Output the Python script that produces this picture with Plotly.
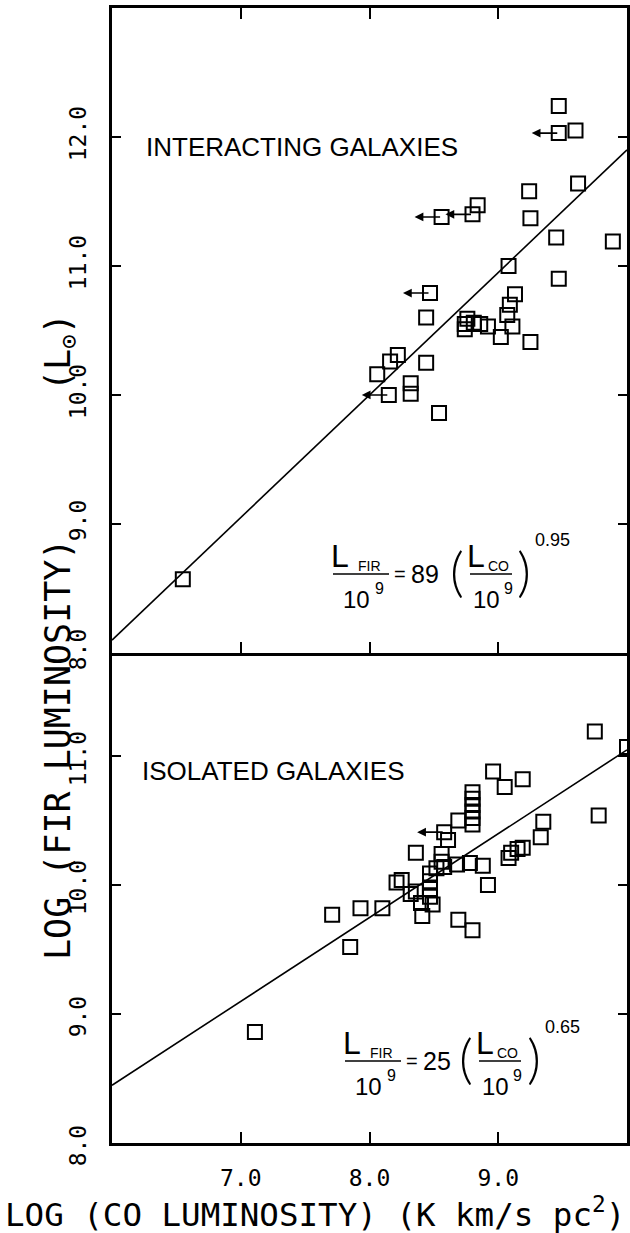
import math
import plotly.graph_objects as go
from plotly.subplots import make_subplots

# ---------------- data ----------------
# Interacting galaxies (top panel): log L_CO, log L_FIR
int_logco = [9.47, 9.47, 9.60, 9.62, 9.24, 9.25, 9.45, 9.89, 9.08, 9.47,
             8.56, 8.80, 8.84, 8.47, 8.44, 8.76, 8.74, 8.74, 8.86, 8.92,
             9.07, 9.09, 9.13, 9.11, 9.02, 9.25, 8.81, 8.22, 8.16, 8.06,
             8.44, 8.32, 8.32, 8.15, 8.54, 6.55]
int_logfir = [12.24, 12.03, 12.05, 11.64, 11.58, 11.37, 11.22, 11.19, 11.00, 10.90,
              11.38, 11.40, 11.47, 10.79, 10.60, 10.59, 10.51, 10.55, 10.55, 10.53,
              10.62, 10.70, 10.78, 10.53, 10.45, 10.41, 10.56, 10.31, 10.26, 10.16,
              10.25, 10.09, 10.01, 10.00, 9.86, 8.57]
# upper limits on CO (arrows pointing to lower L_CO)
int_lim_logco = [9.47, 8.56, 8.80, 8.47, 8.15]
int_lim_logfir = [12.03, 11.38, 11.40, 10.79, 10.00]

# Isolated galaxies (bottom panel)
iso_logco = [9.75, 9.78, 8.96, 9.05, 9.19, 8.80, 8.80, 8.80, 8.80, 8.80,
             8.80, 8.69, 8.58, 8.61, 8.36, 8.56, 9.35, 9.33, 9.19, 9.15,
             9.10, 9.08, 8.88, 8.78, 8.68, 8.58, 8.56, 8.92, 8.21, 8.25,
             8.36, 8.32, 8.47, 8.47, 8.47, 8.47, 8.40, 8.49, 8.41, 8.69,
             8.80, 7.71, 7.93, 8.10, 7.85, 7.11, 8.52, 10.00]
iso_logfir = [11.19, 10.54, 10.88, 10.76, 10.82, 10.72, 10.67, 10.62, 10.57, 10.52,
              10.47, 10.50, 10.41, 10.35, 10.25, 10.24, 10.49, 10.37, 10.29, 10.28,
              10.25, 10.21, 10.15, 10.17, 10.16, 10.14, 10.18, 10.00, 10.02, 10.04,
              9.95, 9.93, 10.09, 10.03, 9.97, 9.91, 9.86, 9.85, 9.76, 9.73,
              9.65, 9.77, 9.82, 9.82, 9.52, 8.86, 10.13, 11.07]
iso_lim_logco = [8.58]
iso_lim_logfir = [10.41]

# Fits: L_FIR/1e9 = A (L_CO/1e9)^b
fit_int_coef, fit_int_slope = 89, 0.95
fit_iso_coef, fit_iso_slope = 25, 0.65
fit_x = [6.0, 10.0]

x_ticks = [7.0, 8.0, 9.0]
y_ticks_top = [8.0, 9.0, 10.0, 11.0, 12.0]
y_ticks_bot = [8.0, 9.0, 10.0, 11.0]
x_range = [6.0, 10.0]
y_range_top = [8.0, 13.0]
y_range_bot = [8.0, 11.8]

# ---------------- figure ----------------
W, H = 630, 1233
ML, MR, MT, MB = 112, 3, 8, 90
PW, PH = W - ML - MR, H - MT - MB

def px(xp, yp):
    return (xp - ML) / PW, (H - MB - yp) / PH

fig = make_subplots(rows=2, cols=1, shared_xaxes=True, vertical_spacing=0,
                    row_heights=[y_range_top[1] - y_range_top[0],
                                 y_range_bot[1] - y_range_bot[0]])

def fit_line(coef, slope):
    return [9 + math.log10(coef) + slope * (x - 9) for x in fit_x]

fig.add_trace(go.Scatter(x=fit_x, y=fit_line(fit_int_coef, fit_int_slope), mode="lines",
                         line=dict(color="black", width=1.6), showlegend=False), row=1, col=1)
fig.add_trace(go.Scatter(x=fit_x, y=fit_line(fit_iso_coef, fit_iso_slope), mode="lines",
                         line=dict(color="black", width=1.6), showlegend=False), row=2, col=1)

marker = dict(symbol="square-open", size=14, color="black", line=dict(width=2, color="black"))
fig.add_trace(go.Scatter(x=int_logco, y=int_logfir, mode="markers", marker=marker,
                         showlegend=False), row=1, col=1)
fig.add_trace(go.Scatter(x=iso_logco, y=iso_logfir, mode="markers", marker=marker,
                         showlegend=False), row=2, col=1)

ARROW = 0.21
for xs, ys, xr, yr in [(int_lim_logco, int_lim_logfir, "x", "y"),
                       (iso_lim_logco, iso_lim_logfir, "x2", "y2")]:
    for xv, yv in zip(xs, ys):
        fig.add_annotation(x=xv - ARROW, y=yv, ax=xv, ay=yv, xref=xr, yref=yr,
                           axref=xr, ayref=yr, text="", showarrow=True,
                           arrowhead=2, arrowsize=1.1, arrowwidth=1.6, arrowcolor="black")

axis_common = dict(showline=True, linewidth=2.5, linecolor="black", mirror="ticks",
                   ticks="inside", tickcolor="black", tickwidth=1.5,
                   showgrid=False, zeroline=False, automargin=False)
tickfont = dict(family="DejaVu Sans Mono", size=23, color="black")

fig.update_xaxes(range=x_range, tickvals=x_ticks, ticklen=11, **axis_common)
fig.update_xaxes(showticklabels=False, row=1, col=1)
fig.update_xaxes(ticktext=[f"{v:.1f}" for v in x_ticks], tickfont=tickfont,
                 ticklabelstandoff=13, mirror=False, row=2, col=1)
fig.update_yaxes(range=y_range_top, tickvals=y_ticks_top,
                 ticktext=[f"{v:.1f}" for v in y_ticks_top], row=1, col=1)
fig.update_yaxes(range=y_range_bot, tickvals=y_ticks_bot,
                 ticktext=[f"{v:.1f}" for v in y_ticks_bot], ticklabelshift=6, row=2, col=1)
fig.update_yaxes(tickangle=-90, tickfont=tickfont, ticklen=9, ticklabelstandoff=14,
                 **axis_common)

def note(xp, yp, s, font, **kw):
    x0, y0 = px(xp, yp)
    opts = dict(xanchor="center", yanchor="middle")
    opts.update(kw)
    fig.add_annotation(x=x0, y=y0, xref="paper", yref="paper", showarrow=False, text=s,
                       font=font, **opts)

# axis titles
note(315, 1212, "LOG (CO LUMINOSITY) (K km/s pc<sup>2</sup>)",
     dict(family="DejaVu Sans Mono", size=32.5, color="black"))
note(60, 637, "LOG (FIR LUMINOSITY)" + "\u00a0" * 7 + "(L<sub>\u2299</sub>)",
     dict(family="DejaVu Sans Mono", size=35, color="black"), textangle=-90)

# panel labels
lab_font = dict(family="Liberation Sans", size=26, color="black")
note(144, 147, "INTERACTING GALAXIES", lab_font, xanchor="left")
note(140, 771, "ISOLATED GALAXIES", lab_font, xanchor="left")

# equations
def txt(xp, yp, s, size, family="Liberation Sans", weight=None):
    f = dict(family=family, size=size, color="black")
    if weight:
        f["weight"] = weight
    note(xp, yp, s, f)

def bar(x1, x2, yp):
    a, b = px(x1, yp)
    c, _ = px(x2, yp)
    fig.add_shape(type="line", x0=a, x1=c, y0=b, y1=b, xref="paper", yref="paper",
                  line=dict(color="black", width=1.5))

def equation(dx, dy, coef, expo, pl, pr):
    # dx, dy: pixel offset of this equation; pl, pr: positions of parentheses
    txt(dx + 340, dy + 556, "L", 32)
    txt(dx + 369, dy + 566, "FIR", 14)
    bar(dx + 333, dx + 389, dy + 574)
    txt(dx + 356, dy + 599, "10", 24)
    txt(dx + 379, dy + 588, "9", 16)
    txt(dx + 400, dy + 574, "=", 20)
    txt(dx + 425, dy + 574, coef, 25)
    txt(dx + pl, dy + 570, "(", 54, "Lato", 300)
    txt(dx + pl + 19, dy + 556, "L", 32)
    txt(dx + pl + 41, dy + 566, "CO", 14)
    bar(dx + pl + 13, dx + pl + 55, dy + 574)
    txt(dx + pl + 29, dy + 599, "10", 24)
    txt(dx + pl + 51, dy + 588, "9", 16)
    txt(dx + pr, dy + 570, ")", 54, "Lato", 300)
    txt(dx + pr + 28, dy + 540, expo, 18)

equation(0, 0, "89", "0.95", 457, 524)
equation(12, 487, "25", "0.65", 454, 522)

fig.update_layout(width=W, height=H, margin=dict(l=ML, r=MR, t=MT, b=MB),
                  paper_bgcolor="white", plot_bgcolor="white", showlegend=False)

fig.write_html("out.html", config={"displayModeBar": False},
               post_script="document.body.style.margin='0';document.body.style.overflow='hidden';")
